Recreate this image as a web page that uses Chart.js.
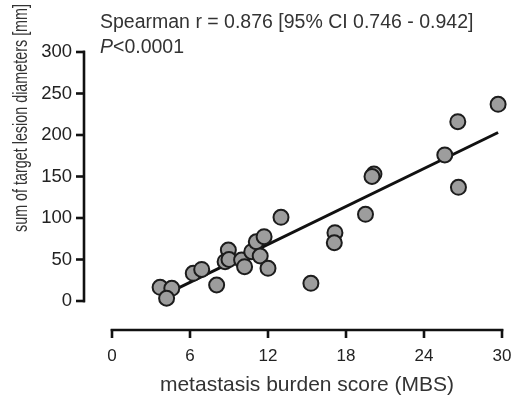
<!DOCTYPE html>
<html>
<head>
<meta charset="utf-8">
<script src="https://cdn.jsdelivr.net/npm/chart.js@4/dist/chart.umd.min.js"></script>
<style>
  html, body { margin: 0; padding: 0; background: #fff; }
  #c { display: block; }
</style>
</head>
<body>
<canvas id="c" width="512" height="401"></canvas>
<script>
// ---- data ----
const mbs = [3.7, 4.6, 4.2, 6.25, 6.9, 8.05, 8.95, 8.7, 9.0, 9.97, 10.2, 10.75, 11.1, 11.7, 11.4, 12.0, 13.0,
             15.3, 17.15, 17.1, 19.5, 20.15, 20.0, 25.6, 26.6, 26.65, 29.7];
const sld = [16.5, 15.3, 3.3, 33.3, 38, 19.3, 61.4, 47.4, 50, 49.4, 41.3, 59.4, 71.4, 77.5, 54.2, 39.4, 100.8,
             21.3, 82.3, 70.2, 104.4, 153, 150, 176, 216, 137, 237];
const fitX = [3.7, 29.7];
const fitY = [5, 203];
const xTicks = [0, 6, 12, 18, 24, 30];
const yTicks = [0, 50, 100, 150, 200, 250, 300];
const statLine1 = 'Spearman r = 0.876 [95% CI 0.746 - 0.942]';
const statP = 'P';
const statLine2 = '<0.0001';
const xTitle = 'metastasis burden score (MBS)';
const yTitle = 'sum of target lesion diameters [mm]';

const FONT = "'Liberation Sans', Arial, Helvetica, sans-serif";

const axesPlugin = {
  id: 'customAxes',
  afterDraw(chart) {
    const ctx = chart.ctx;
    const xs = chart.scales.x, ys = chart.scales.y;
    ctx.save();
    ctx.strokeStyle = '#111';
    ctx.lineWidth = 2.6;
    ctx.lineCap = 'square';
    // y axis
    const yAxisX = 84;
    ctx.beginPath();
    ctx.moveTo(yAxisX, ys.getPixelForValue(yTicks[yTicks.length - 1]));
    ctx.lineTo(yAxisX, ys.getPixelForValue(yTicks[0]));
    ctx.stroke();
    ctx.lineCap = 'butt';
    yTicks.forEach(v => {
      const py = ys.getPixelForValue(v);
      ctx.beginPath();
      ctx.moveTo(yAxisX + 1, py);
      ctx.lineTo(yAxisX - 8, py);
      ctx.stroke();
    });
    // x axis
    const xAxisY = 330;
    ctx.lineCap = 'square';
    ctx.beginPath();
    ctx.moveTo(xs.getPixelForValue(xTicks[0]), xAxisY);
    ctx.lineTo(xs.getPixelForValue(xTicks[xTicks.length - 1]), xAxisY);
    ctx.stroke();
    ctx.lineCap = 'butt';
    xTicks.forEach(v => {
      const px = xs.getPixelForValue(v);
      ctx.beginPath();
      ctx.moveTo(px, xAxisY - 1);
      ctx.lineTo(px, xAxisY + 8);
      ctx.stroke();
    });
    // y title (condensed, as in the reference)
    ctx.fillStyle = '#333';
    ctx.font = '20px ' + FONT;
    ctx.textAlign = 'center';
    ctx.textBaseline = 'middle';
    const tw = ctx.measureText(yTitle).width;
    const k = Math.min(1, 228 / tw);
    ctx.translate(21, 118);
    ctx.rotate(-Math.PI / 2);
    ctx.scale(k, 1);
    ctx.fillText(yTitle, 0, 0);
    ctx.restore();

    // stats text
    ctx.save();
    ctx.fillStyle = '#333';
    ctx.textAlign = 'left';
    ctx.textBaseline = 'alphabetic';
    ctx.font = '19.5px ' + FONT;
    ctx.fillText(statLine1, 100, 28);
    ctx.font = 'italic 19.5px ' + FONT;
    ctx.fillText(statP, 100, 53);
    const w = ctx.measureText(statP).width;
    ctx.font = '19.5px ' + FONT;
    ctx.fillText(statLine2, 100 + w, 53);
    ctx.restore();
  }
};

new Chart(document.getElementById('c'), {
  data: {
    datasets: [
      {
        type: 'scatter',
        data: mbs.map((x, i) => ({ x: x, y: sld[i] })),
        pointRadius: 7.5,
        pointBackgroundColor: '#9d9d9d',
        pointBorderColor: '#1c1c1c',
        pointBorderWidth: 2,
        clip: false,
        order: 0
      },
      {
        type: 'line',
        data: fitX.map((x, i) => ({ x: x, y: fitY[i] })),
        borderColor: '#111',
        borderWidth: 3,
        pointRadius: 0,
        fill: false,
        clip: false,
        order: 1
      }
    ]
  },
  options: {
    responsive: false,
    animation: false,
    events: [],
    layout: { padding: { left: 0, right: 10, top: 52, bottom: 0 } },
    plugins: { legend: { display: false }, tooltip: { enabled: false } },
    scales: {
      x: {
        type: 'linear',
        min: 0, max: 30,
        grid: { display: false, drawTicks: false },
        border: { display: false },
        afterFit(s) { s.height = 100; s.paddingLeft = 0; s.paddingRight = 0; },
        afterBuildTicks(s) { s.ticks = xTicks.map(v => ({ value: v })); },
        ticks: { padding: 45, color: '#222', font: { family: FONT, size: 17 } },
        title: { display: true, text: xTitle, color: '#333', padding: { top: 0, bottom: 3 }, font: { family: FONT, size: 21 } }
      },
      y: {
        type: 'linear',
        min: 0, max: 300,
        grid: { display: false, drawTicks: false },
        border: { display: false },
        afterFit(s) { s.width = 112; s.paddingTop = 0; s.paddingBottom = 0; },
        afterBuildTicks(s) { s.ticks = yTicks.map(v => ({ value: v })); },
        ticks: { padding: 40, color: '#222', font: { family: FONT, size: 18.5 } }
      }
    }
  },
  plugins: [axesPlugin]
});
</script>
</body>
</html>
